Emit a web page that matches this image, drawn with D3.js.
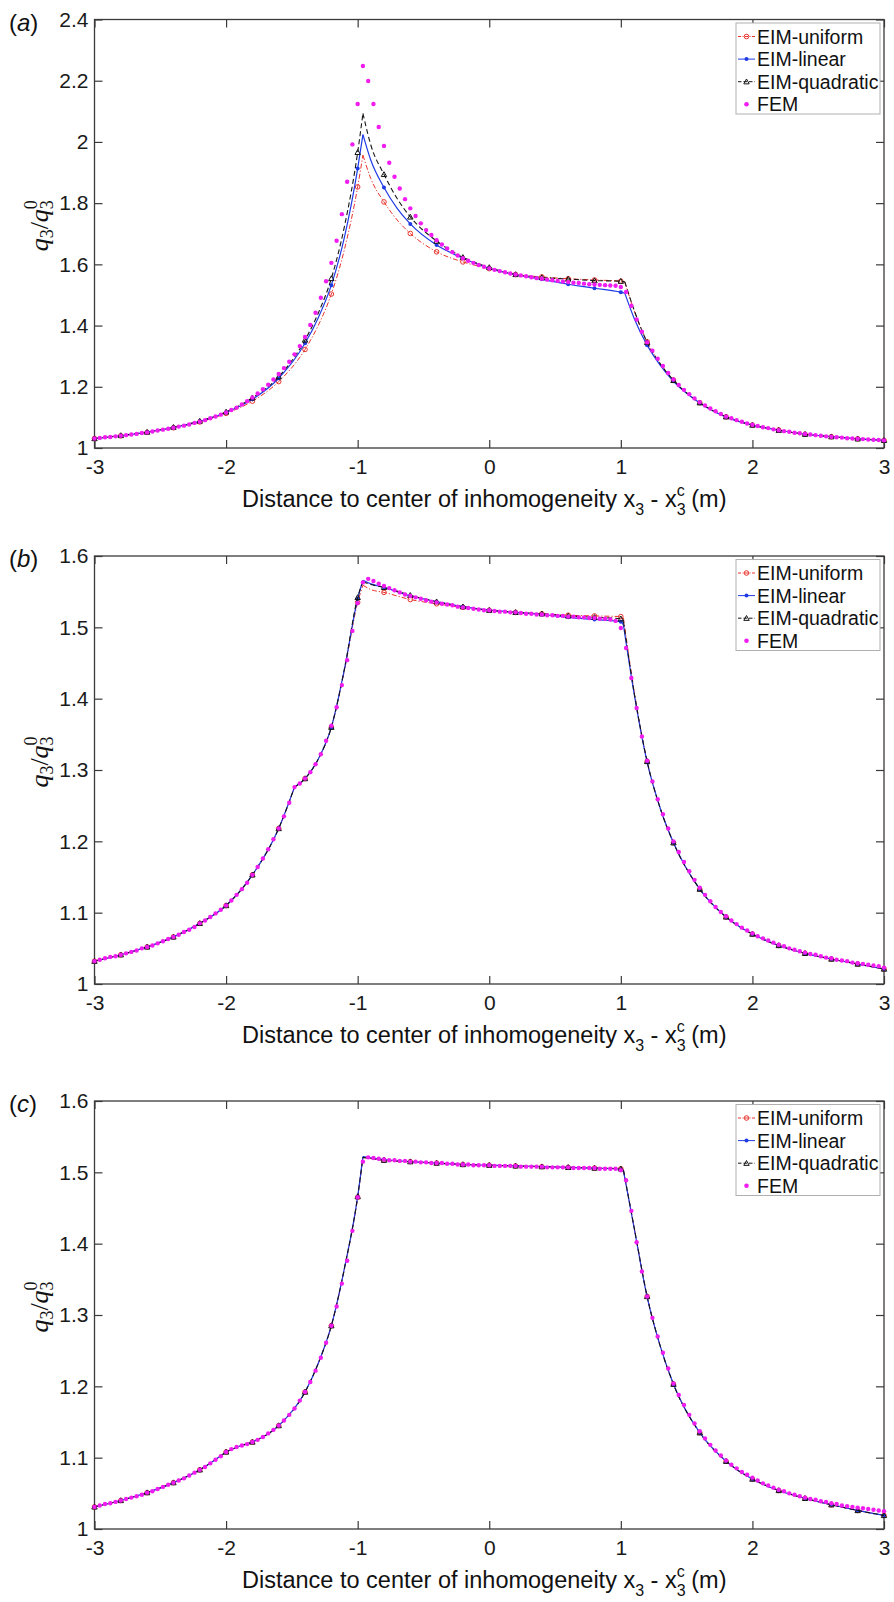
<!DOCTYPE html>
<html><head><meta charset="utf-8">
<script src="https://cdn.jsdelivr.net/npm/d3@7"></script>
<style>
body{margin:0;background:#fff}
svg{display:block}
text{font-family:"Liberation Sans",Arial,Helvetica,sans-serif;white-space:pre}
</style>
</head><body>
<svg id="chart" width="894" height="1602"></svg>
<script>
// ---------------- DATA ----------------
const seriesNames = ["EIM-uniform","EIM-linear","EIM-quadratic","FEM"];
const panelLetters = ["a","b","c"];
const xTickValues = [-3,-2,-1,0,1,2,3];
const yTicksA = [1,1.2,1.4,1.6,1.8,2,2.2,2.4];
const yTicksBC = [1,1.1,1.2,1.3,1.4,1.5,1.6];

// FEM sample positions: every 0.04 m from -3 to 3 (151 points)
const femX = d3.range(151).map(i => +(-3 + 0.04 * i).toFixed(2));

// ---- panel (a) ----
const lineXA = [-3,-2.8,-2.6,-2.4,-2.2,-2.0,-1.8,-1.6,-1.4,
  -1.3,-1.2,-1.1,-1.0,
  -0.96,-0.9,-0.8,-0.7,-0.6,
  -0.4,-0.2,0,0.2,0.4,0.6,0.8,1.0,
  1.03,1.1,1.2,1.3,1.4,
  1.6,1.8,2.0,2.2,2.4,2.6,2.8,3.0];
const uniformA = [1.031,1.040,1.051,1.066,1.085,1.113,1.153,1.217,1.322,
  1.400,1.503,1.650,1.853,
  1.957,1.880,1.804,1.745,1.701,
  1.641,1.608,1.586,1.567,1.559,1.553,1.549,1.545,
  1.543,1.450,1.347,1.276,1.222,
  1.148,1.102,1.075,1.059,1.045,1.037,1.030,1.025];
const linearA = [1.031,1.040,1.052,1.067,1.087,1.116,1.159,1.228,1.342,
  1.425,1.532,1.690,1.913,
  2.024,1.940,1.851,1.783,1.732,
  1.663,1.620,1.587,1.566,1.551,1.535,1.522,1.509,
  1.506,1.425,1.336,1.270,1.218,
  1.147,1.101,1.075,1.058,1.045,1.037,1.030,1.025];
const quadraticA = [1.031,1.041,1.052,1.068,1.088,1.118,1.164,1.233,1.353,
  1.440,1.554,1.725,1.966,
  2.093,1.990,1.894,1.815,1.755,
  1.676,1.623,1.590,1.567,1.557,1.552,1.547,1.545,
  1.543,1.452,1.345,1.275,1.221,
  1.148,1.102,1.075,1.058,1.045,1.037,1.030,1.025];
const femA = [
  1.031,1.033,1.035,1.036,1.038,1.040,1.042,1.044,1.046,1.049,
  1.051,1.054,1.057,1.060,1.063,1.066,1.070,1.073,1.077,1.082,
  1.086,1.091,1.097,1.103,1.109,1.116,1.124,1.132,1.142,1.153,
  1.165,1.178,1.192,1.207,1.224,1.242,1.261,1.282,1.306,1.333,
  1.363,1.402,1.442,1.491,1.545,1.605,1.677,1.764,1.870,1.992,
  2.124,2.248,2.199,2.124,2.049,1.987,1.932,1.886,1.848,1.813,
  1.783,1.758,1.734,1.712,1.696,1.679,1.665,1.652,1.640,1.629,
  1.620,1.612,1.605,1.598,1.592,1.587,1.582,1.578,1.574,1.570,
  1.567,1.564,1.561,1.558,1.555,1.553,1.550,1.548,1.546,1.544,
  1.542,1.540,1.539,1.537,1.535,1.534,1.533,1.532,1.531,1.530,
  1.526,1.510,1.465,1.420,1.380,1.345,1.318,1.292,1.268,1.245,
  1.224,1.206,1.190,1.176,1.162,1.150,1.139,1.129,1.120,1.111,
  1.103,1.097,1.091,1.086,1.080,1.076,1.072,1.068,1.065,1.061,
  1.058,1.055,1.053,1.050,1.048,1.046,1.044,1.042,1.040,1.038,
  1.037,1.035,1.034,1.032,1.031,1.030,1.029,1.028,1.027,1.026,
  1.025];
const kinksA = [-0.96, 1.03];

// ---- panel (b) ----
const lineXB = [-3,-2.8,-2.6,-2.4,-2.2,-2.0,-1.8,-1.6,
  -1.48,-1.4,-1.3,-1.2,-1.1,-1.0,
  -0.96,-0.9,-0.8,-0.6,-0.4,-0.2,0,
  0.2,0.4,0.6,0.8,1.0,
  1.02,1.1,1.2,1.3,1.4,
  1.6,1.8,2.0,2.2,2.4,2.6,2.8,3.0];
const uniformB = [1.032,1.041,1.052,1.066,1.085,1.110,1.153,1.218,
  1.276,1.288,1.315,1.360,1.440,1.535,
  1.559,1.553,1.549,1.539,1.533,1.528,1.524,
  1.521,1.519,1.517,1.516,1.515,
  1.513,1.412,1.312,1.246,1.198,
  1.133,1.094,1.070,1.054,1.043,1.035,1.028,1.021];
const linearB = [1.032,1.041,1.052,1.066,1.085,1.110,1.153,1.218,
  1.276,1.288,1.315,1.360,1.442,1.540,
  1.566,1.561,1.556,1.544,1.536,1.529,1.524,
  1.521,1.518,1.514,1.511,1.508,
  1.503,1.408,1.311,1.246,1.198,
  1.133,1.094,1.070,1.054,1.043,1.035,1.028,1.021];
const quadraticB = [1.032,1.041,1.052,1.066,1.085,1.110,1.153,1.218,
  1.276,1.288,1.315,1.360,1.442,1.542,
  1.564,1.560,1.556,1.545,1.536,1.529,1.524,
  1.521,1.519,1.516,1.514,1.512,
  1.508,1.410,1.312,1.246,1.198,
  1.133,1.094,1.070,1.054,1.043,1.035,1.028,1.021];
const femB = [
  1.032,1.034,1.036,1.038,1.039,1.041,1.043,1.045,1.047,1.050,
  1.052,1.054,1.057,1.060,1.063,1.066,1.069,1.073,1.076,1.080,
  1.085,1.089,1.094,1.099,1.104,1.110,1.117,1.125,1.133,1.142,
  1.153,1.164,1.176,1.189,1.203,1.218,1.235,1.254,1.276,1.281,
  1.288,1.297,1.308,1.322,1.341,1.362,1.388,1.419,1.454,1.495,
  1.534,1.563,1.568,1.565,1.561,1.558,1.555,1.552,1.549,1.546,
  1.544,1.542,1.540,1.538,1.536,1.535,1.533,1.532,1.531,1.529,
  1.528,1.527,1.526,1.525,1.524,1.524,1.523,1.522,1.522,1.521,
  1.521,1.520,1.519,1.519,1.518,1.518,1.517,1.517,1.516,1.516,
  1.515,1.515,1.514,1.514,1.513,1.513,1.512,1.512,1.511,1.509,
  1.499,1.471,1.429,1.387,1.347,1.313,1.284,1.259,1.238,1.218,
  1.200,1.185,1.171,1.158,1.146,1.135,1.125,1.116,1.108,1.101,
  1.095,1.089,1.084,1.079,1.075,1.071,1.067,1.064,1.061,1.058,
  1.055,1.053,1.050,1.048,1.046,1.044,1.042,1.041,1.039,1.037,
  1.036,1.034,1.033,1.032,1.030,1.029,1.028,1.027,1.026,1.025,
  1.023];
const kinksB = [-1.48, -0.96, 1.02];

// ---- panel (c) ----
const lineXC = [-3,-2.8,-2.6,-2.4,-2.2,-2.0,
  -1.9,-1.8,-1.6,-1.4,-1.3,-1.2,-1.1,-1.0,
  -0.96,-0.8,-0.6,-0.4,-0.2,0,
  0.2,0.4,0.6,0.8,1.0,
  1.02,1.1,1.2,1.3,1.4,
  1.6,1.8,2.0,2.2,2.4,2.6,2.8,3.0];
const uniformC = [1.031,1.040,1.051,1.065,1.083,1.108,
  1.116,1.122,1.145,1.192,1.232,1.285,1.365,1.465,
  1.521,1.517,1.515,1.513,1.511,1.510,
  1.509,1.508,1.507,1.506,1.505,
  1.503,1.424,1.326,1.256,1.203,
  1.135,1.095,1.070,1.054,1.043,1.034,1.026,1.019];
const linearC = [1.031,1.040,1.051,1.065,1.083,1.108,
  1.116,1.122,1.145,1.192,1.232,1.285,1.366,1.466,
  1.522,1.518,1.515,1.513,1.511,1.510,
  1.509,1.508,1.507,1.506,1.504,
  1.502,1.423,1.325,1.256,1.203,
  1.135,1.095,1.070,1.054,1.043,1.034,1.026,1.019];
const quadraticC = [1.031,1.040,1.051,1.065,1.083,1.108,
  1.116,1.122,1.145,1.192,1.232,1.285,1.366,1.466,
  1.521,1.517,1.515,1.513,1.511,1.510,
  1.509,1.508,1.507,1.506,1.505,
  1.503,1.424,1.326,1.256,1.203,
  1.135,1.095,1.070,1.054,1.043,1.034,1.026,1.019];
const femC = [
  1.031,1.033,1.035,1.036,1.038,1.040,1.042,1.044,1.046,1.048,
  1.051,1.053,1.056,1.059,1.062,1.065,1.068,1.071,1.075,1.079,
  1.083,1.087,1.092,1.097,1.102,1.108,1.112,1.115,1.117,1.119,
  1.122,1.125,1.129,1.134,1.139,1.145,1.152,1.160,1.169,1.180,
  1.192,1.206,1.222,1.240,1.261,1.285,1.312,1.344,1.376,1.418,
  1.465,1.515,1.521,1.520,1.519,1.518,1.517,1.517,1.516,1.516,
  1.515,1.515,1.514,1.514,1.513,1.513,1.513,1.512,1.512,1.511,
  1.511,1.511,1.510,1.510,1.510,1.510,1.509,1.509,1.509,1.509,
  1.509,1.508,1.508,1.508,1.508,1.508,1.507,1.507,1.507,1.507,
  1.507,1.506,1.506,1.506,1.506,1.506,1.505,1.505,1.505,1.505,
  1.503,1.489,1.446,1.402,1.361,1.326,1.296,1.270,1.247,1.225,
  1.204,1.188,1.174,1.160,1.148,1.137,1.127,1.118,1.110,1.103,
  1.096,1.090,1.085,1.080,1.076,1.072,1.068,1.064,1.061,1.058,
  1.055,1.053,1.050,1.048,1.046,1.044,1.042,1.041,1.039,1.038,
  1.036,1.035,1.033,1.032,1.031,1.030,1.029,1.028,1.027,1.026,
  1.025];
const kinksC = [-2.0, -0.96, 1.02];

// ---------------- LAYOUT / STYLE ----------------
const left = 94.5, right = 884;
const panels = [
  {letter:"a", top:19.5, bottom:448, yDomain:[1,2.4], yTicks:yTicksA,
   lx:lineXA, uni:uniformA, lin:linearA, quad:quadraticA, fem:femA, kinks:kinksA},
  {letter:"b", top:556, bottom:984, yDomain:[1,1.6], yTicks:yTicksBC,
   lx:lineXB, uni:uniformB, lin:linearB, quad:quadraticB, fem:femB, kinks:kinksB},
  {letter:"c", top:1101, bottom:1529, yDomain:[1,1.6], yTicks:yTicksBC,
   lx:lineXC, uni:uniformC, lin:linearC, quad:quadraticC, fem:femC, kinks:kinksC}
];
const colUni = "#e8322c", colLin = "#1f3be6", colQuad = "#141414", colFem = "#f01cf0";
const axisCol = "#3a3a3a";

const svg = d3.select("#chart");
const isMarker = x => Math.abs(x * 5 - Math.round(x * 5)) < 1e-6;

function segments(pts, kinks) {
  const segs = [];
  let cur = [];
  pts.forEach(p => {
    cur.push(p);
    if (kinks.some(k => Math.abs(k - p[0]) < 1e-9)) { segs.push(cur); cur = [p]; }
  });
  if (cur.length > 1) segs.push(cur);
  return segs;
}

function drawMarker(g, type, cx, cy, color) {
  if (type === "circle") {
    g.append("circle").attr("cx", cx).attr("cy", cy).attr("r", 2.3)
      .attr("fill", "none").attr("stroke", color).attr("stroke-width", 1);
  } else if (type === "dot") {
    g.append("circle").attr("cx", cx).attr("cy", cy).attr("r", 2.0).attr("fill", color);
  } else if (type === "tri") {
    const s = 2.7;
    g.append("path").attr("d", `M${cx},${cy - s}L${cx + s},${cy + s * 0.8}L${cx - s},${cy + s * 0.8}Z`)
      .attr("fill", "none").attr("stroke", color).attr("stroke-width", 1);
  } else if (type === "fem") {
    g.append("circle").attr("cx", cx).attr("cy", cy).attr("r", 2.3).attr("fill", color);
  }
}

panels.forEach(P => {
  const x = d3.scaleLinear().domain([-3, 3]).range([left, right]);
  const y = d3.scaleLinear().domain(P.yDomain).range([P.bottom, P.top]);
  const g = svg.append("g");

  // axes (ticks pointing inward, box)
  const fs = "21px";
  const ax = g.append("g").attr("transform", `translate(0,${P.bottom})`)
    .call(d3.axisBottom(x).tickValues(xTickValues).tickFormat(d => String(d)).tickSize(-8).tickSizeOuter(0).tickPadding(11));
  const ay = g.append("g").attr("transform", `translate(${left},0)`)
    .call(d3.axisLeft(y).tickValues(P.yTicks).tickFormat(d => String(d)).tickSize(-8).tickSizeOuter(0).tickPadding(6));
  const at = g.append("g").attr("transform", `translate(0,${P.top})`)
    .call(d3.axisTop(x).tickValues(xTickValues).tickFormat("").tickSize(-8).tickSizeOuter(0));
  const ar = g.append("g").attr("transform", `translate(${right},0)`)
    .call(d3.axisRight(y).tickValues(P.yTicks).tickFormat("").tickSize(-8).tickSizeOuter(0));
  [ax, ay, at, ar].forEach(a => {
    a.select(".domain").remove();
    a.selectAll("line").attr("stroke", axisCol).attr("stroke-width", 1.2);
    a.attr("font-family", null).attr("font-size", null);
    a.selectAll("text").style("font-size", fs).attr("fill", "#1a1a1a");
  });
  g.append("rect").attr("x", left).attr("y", P.top).attr("width", right - left).attr("height", P.bottom - P.top)
    .attr("fill", "none").attr("stroke", axisCol).attr("stroke-width", 1.3);

  // series lines
  const line = d3.line().x(d => x(d[0])).y(d => y(d[1])).curve(d3.curveMonotoneX);
  const defs = [
    {vals:P.uni, col:colUni, dash:"5,2,1.2,2", w:1, mk:"circle"},
    {vals:P.lin, col:colLin, dash:null, w:1.2, mk:"dot"},
    {vals:P.quad, col:colQuad, dash:"5,3", w:1.1, mk:"tri"}
  ];
  defs.forEach(s => {
    const pts = P.lx.map((xv, i) => [xv, s.vals[i]]);
    const segs = segments(pts, P.kinks);
    const gs = g.append("g");
    segs.forEach(seg => {
      gs.append("path").attr("d", line(seg)).attr("fill", "none")
        .attr("stroke", s.col).attr("stroke-width", s.w).attr("stroke-dasharray", s.dash);
    });
    pts.filter(p => isMarker(p[0])).forEach(p => drawMarker(gs, s.mk, x(p[0]), y(p[1]), s.col));
  });
  // FEM dots
  const gf = g.append("g");
  gf.selectAll("circle").data(femX.map((xv, i) => [xv, P.fem[i]])).join("circle")
    .attr("cx", d => x(d[0])).attr("cy", d => y(d[1])).attr("r", 2.2).attr("fill", colFem);

  // legend
  const lgTop = P.top + 3.5;
  const lg = g.append("g");
  lg.append("rect").attr("x", 736).attr("y", lgTop).attr("width", 144).attr("height", 91)
    .attr("fill", "#fff").attr("stroke", "#b0b0b0").attr("stroke-width", 1);
  const lgDefs = [
    {col:colUni, dash:"3,1.5,1,1.5", mk:"circle", line:true},
    {col:colLin, dash:null, mk:"dot", line:true},
    {col:colQuad, dash:"3.5,2", mk:"tri", line:true},
    {col:colFem, dash:null, mk:"fem", line:false}
  ];
  seriesNames.forEach((name, i) => {
    const ry = lgTop + 13.5 + i * 22.6;
    const d = lgDefs[i];
    if (d.line) lg.append("line").attr("x1", 738).attr("x2", 755).attr("y1", ry).attr("y2", ry)
      .attr("stroke", d.col).attr("stroke-width", 1).attr("stroke-dasharray", d.dash);
    drawMarker(lg, d.mk, 746.5, ry, d.col);
    lg.append("text").attr("x", 757).attr("y", ry).attr("dy", "0.36em")
      .style("font-size", "19.5px").attr("fill", "#111").text(name);
  });

  // x axis title
  const cx = (left + right) / 2 - 5;
  const t = g.append("text").attr("x", cx).attr("y", P.bottom + 59).attr("text-anchor", "middle")
    .style("font-size", "23.5px").attr("fill", "#111");
  t.append("tspan").text("Distance to center of inhomogeneity x");
  t.append("tspan").attr("dy", 7.5).style("font-size", "16px").text("3");
  t.append("tspan").attr("dy", -7.5).text(" - x");
  t.append("tspan").attr("dy", 7.5).style("font-size", "16px").text("3");
  t.append("tspan").attr("dx", -8.9).attr("dy", -19).style("font-size", "16px").text("c");
  t.append("tspan").attr("dy", 11.5).text(" (m)");

  // y axis label (LaTeX-like)
  const cy = (P.top + P.bottom) / 2 - 8;
  const yl = g.append("text").attr("transform", `translate(48,${cy}) rotate(-90)`)
    .attr("text-anchor", "middle").attr("fill", "#111")
    .style("font-family", "'Liberation Serif','DejaVu Serif',serif").style("font-size", "26px");
  yl.append("tspan").style("font-style", "italic").text("q");
  yl.append("tspan").attr("dy", 5).style("font-size", "18px").text("3");
  yl.append("tspan").attr("dy", -5).text("/");
  yl.append("tspan").style("font-style", "italic").text("q");
  yl.append("tspan").attr("dy", 5).style("font-size", "18px").text("3");
  yl.append("tspan").attr("dx", -9).attr("dy", -16).style("font-size", "18px").text("0");

  // panel letter
  const pl = g.append("text").attr("x", 9).attr("y", P.top + 11).style("font-size", "24px").attr("fill", "#111");
  pl.append("tspan").text("(");
  pl.append("tspan").style("font-style", "italic").text(P.letter);
  pl.append("tspan").text(")");
});
</script>
</body></html>
